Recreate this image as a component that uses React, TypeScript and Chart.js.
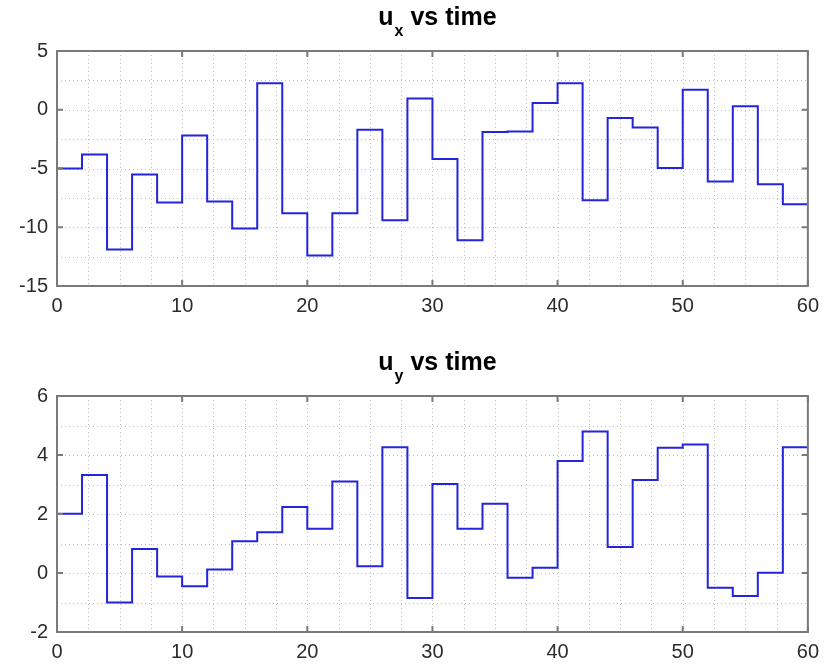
import React, { useEffect, useRef } from "react";
import { Chart, registerables } from "chart.js";

Chart.register(...registerables);

const time = [0, 2, 4, 6, 8, 10, 12, 14, 16, 18, 20, 22, 24, 26, 28, 30, 32, 34, 36, 38, 40, 42, 44, 46, 48, 50, 52, 54, 56, 58, 60];
const uxSteps = [-5.0, -3.8, -11.9, -5.5, -7.9, -2.2, -7.8, -10.1, 2.25, -8.8, -12.4, -8.8, -1.7, -9.4, 0.95, -4.2, -11.1, -1.9, -1.85, 0.57, 2.25, -7.7, -0.7, -1.5, -4.95, 1.7, -6.1, 0.3, -6.35, -8.05];
const uySteps = [2.01, 3.32, -1.0, 0.81, -0.12, -0.45, 0.12, 1.08, 1.38, 2.24, 1.5, 3.1, 0.23, 4.26, -0.85, 3.02, 1.5, 2.35, -0.16, 0.18, 3.8, 4.8, 0.88, 3.15, 4.25, 4.36, -0.5, -0.78, 0.01, 4.26];
const xTickLabels = [0, 10, 20, 30, 40, 50, 60];
const uxTickLabels = [-15, -10, -5, 0, 5];
const uyTickLabels = [-2, 0, 2, 4, 6];

const FONT = '"Liberation Sans", Arial, sans-serif';
const W = 827;

const framePlugin = {
  id: "frame",
  beforeDatasetsDraw(chart: any, _a: any, opts: any) {
    const { ctx, chartArea: a, scales } = chart;
    const x = scales.x, y = scales.y;
    ctx.save();
    ctx.strokeStyle = "#bdbdbd";
    ctx.lineWidth = 1;
    ctx.setLineDash([1, 3]);
    ctx.beginPath();
    for (let v = x.min + opts.xMinor; v < x.max - 1e-6; v += opts.xMinor) {
      const p = Math.round(x.getPixelForValue(v)) + 0.5;
      ctx.moveTo(p, a.top);
      ctx.lineTo(p, a.bottom);
    }
    for (let v = y.min + opts.yMinor; v < y.max - 1e-6; v += opts.yMinor) {
      const p = Math.round(y.getPixelForValue(v)) + 0.5;
      ctx.moveTo(a.left, p);
      ctx.lineTo(a.right, p);
    }
    ctx.stroke();
    ctx.restore();
  },
  afterDatasetsDraw(chart: any) {
    const { ctx, chartArea: a, scales } = chart;
    const x = scales.x, y = scales.y;
    ctx.save();
    ctx.strokeStyle = "#7a7a7a";
    ctx.lineWidth = 2;
    ctx.strokeRect(a.left, a.top, a.right - a.left, a.bottom - a.top);
    ctx.beginPath();
    const tl = 6;
    x.ticks.forEach((t: any) => {
      const p = x.getPixelForValue(t.value);
      ctx.moveTo(p, a.bottom);
      ctx.lineTo(p, a.bottom - tl);
      ctx.moveTo(p, a.top);
      ctx.lineTo(p, a.top + tl);
    });
    y.ticks.forEach((t: any) => {
      const p = y.getPixelForValue(t.value);
      ctx.moveTo(a.left, p);
      ctx.lineTo(a.left + tl, p);
      ctx.moveTo(a.right, p);
      ctx.lineTo(a.right - tl, p);
    });
    ctx.stroke();
    ctx.restore();
  },
  afterDraw(chart: any, _a: any, opts: any) {
    const { ctx, chartArea: a } = chart;
    ctx.save();
    ctx.fillStyle = "#000";
    ctx.textBaseline = "alphabetic";
    ctx.textAlign = "left";
    const mainFont = `bold 25px ${FONT}`;
    const subFont = `bold 16px ${FONT}`;
    ctx.font = mainFont;
    const wu = ctx.measureText("u").width;
    const wrest = ctx.measureText(" vs time").width;
    ctx.font = subFont;
    const ws = ctx.measureText(opts.sub).width;
    const total = wu + 1 + ws + wrest;
    let cx = (a.left + a.right) / 2 + 5 - total / 2;
    const base = opts.titleBase;
    ctx.font = mainFont;
    ctx.fillText("u", cx, base);
    cx += wu + 1;
    ctx.font = subFont;
    ctx.fillText(opts.sub, cx, base + opts.subDrop);
    cx += ws;
    ctx.font = mainFont;
    ctx.fillText(" vs time", cx, base);
    ctx.restore();
  },
};

type Props = {
  top: number;
  height: number;
  steps: number[];
  yTicks: number[];
  yMinor: number;
  sub: string;
  areaTop: number;
  areaBottom: number;
  titleBase: number;
  subDrop: number;
};

function SubPlot(p: Props) {
  const ref = useRef<HTMLCanvasElement | null>(null);
  useEffect(() => {
    if (!ref.current) return;
    const pts = time.map((t, i) => ({ x: t, y: i < p.steps.length ? p.steps[i] : p.steps[p.steps.length - 1] }));
    const xStep = xTickLabels[1] - xTickLabels[0];
    const yStep = p.yTicks[1] - p.yTicks[0];
    const chart = new Chart(ref.current, {
      type: "line",
      data: {
        datasets: [
          {
            data: pts,
            stepped: true,
            borderColor: "#2424dc",
            borderWidth: 2,
            pointRadius: 0,
            fill: false,
          },
        ],
      },
      options: {
        animation: false,
        responsive: false,
        events: [],
        layout: { padding: { top: p.areaTop, right: W - 809, left: 0, bottom: 0 } },
        plugins: {
          legend: { display: false },
          tooltip: { enabled: false },
          title: { display: false },
          frame: { xMinor: 2.5, yMinor: p.yMinor, sub: p.sub, titleBase: p.titleBase, subDrop: p.subDrop },
        } as any,
        scales: {
          x: {
            type: "linear",
            min: xTickLabels[0],
            max: xTickLabels[xTickLabels.length - 1],
            ticks: { stepSize: xStep, padding: 8, color: "#2b2b2b", font: { family: FONT, size: 20 }, maxRotation: 0 },
            grid: { display: false, drawTicks: false },
            border: { display: false },
            afterFit: (s: any) => {
              s.height = p.height - p.areaBottom;
            },
          },
          y: {
            type: "linear",
            min: p.yTicks[0],
            max: p.yTicks[p.yTicks.length - 1],
            ticks: { stepSize: yStep, padding: 9, color: "#2b2b2b", font: { family: FONT, size: 20 } },
            grid: { display: false, drawTicks: false },
            border: { display: false },
            afterFit: (s: any) => {
              s.width = 57;
            },
          },
        },
      },
      plugins: [framePlugin],
    } as any);
    return () => chart.destroy();
  }, []);
  return (
    <canvas
      ref={ref}
      width={W}
      height={p.height}
      style={{ position: "absolute", left: 0, top: p.top, width: W, height: p.height, display: "block" }}
    />
  );
}

export default function App() {
  return (
    <div style={{ position: "absolute", left: 0, top: 0, width: W, height: 670, background: "#fff", overflow: "hidden" }}>
      <SubPlot top={0} height={330} steps={uxSteps} yTicks={uxTickLabels} yMinor={2.5} sub="x" areaTop={51} areaBottom={286} titleBase={25} subDrop={11} />
      <SubPlot top={340} height={330} steps={uySteps} yTicks={uyTickLabels} yMinor={1} sub="y" areaTop={56} areaBottom={292} titleBase={30} subDrop={11} />
    </div>
  );
}
